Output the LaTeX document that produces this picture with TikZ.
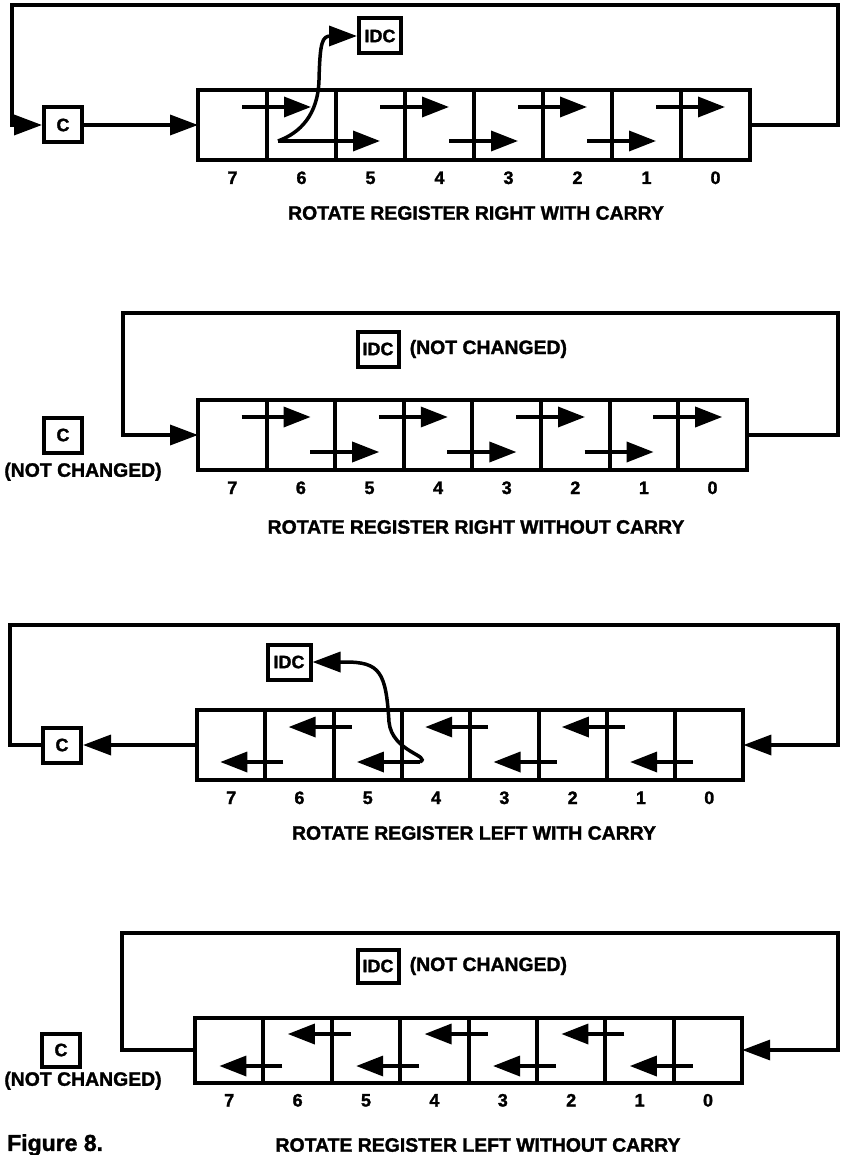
\documentclass[tikz,border=0pt]{standalone}
\usepackage{fontspec}
\setmainfont[BoldFeatures={FakeBold=1.5}]{Liberation Sans}
\usetikzlibrary{arrows.meta,positioning,calc}

\tikzset{
  regcell/.style={draw, line width=4pt, inner sep=0pt, outer sep=0pt},
  flagbox/.style={draw, line width=4pt, inner sep=0pt, minimum height=35pt, font=\fontsize{18}{18}\selectfont\bfseries},
  bitnum/.style={inner sep=0pt, anchor=base, font=\fontsize{18}{18}\selectfont\bfseries},
  caption/.style={inner sep=0pt, font=\fontsize{19.4}{22}\selectfont\bfseries},
  note/.style={inner sep=0pt, font=\fontsize{19.4}{22}\selectfont\bfseries},
  figlabel/.style={inner sep=0pt, font=\fontsize{23}{25}\selectfont\bfseries},
  conn/.style={line width=3.5pt, -{Triangle[length=28pt,width=20pt]}},
  shiftarr/.style={line width=3.5pt, -{Triangle[length=27pt,width=20pt]}}
}

\newcommand{\regrow}[5]{%
  \foreach \b [count=\i from 0] in {7,6,5,4,3,2,1,0}
    \node[regcell, minimum width=#4pt, minimum height=#5pt] (#1\b) at ({#2+#4*(\i+0.5)},#3) {};
  \foreach \b in {7,6,5,4,3,2,1,0}
    \node[bitnum] (#1n\b) at ($(#1\b.south)+(0,24)$) {\b};
}

\begin{document}
\begin{tikzpicture}[x=1pt, y=-1pt]
\useasboundingbox[fill=white] (0,0) rectangle (840,1155);

\regrow{a}{198}{125}{69}{70}
\node[flagbox, minimum width=38pt] (carry1) at (63,125) {C};
\node[flagbox, minimum width=42pt] (idc1) at (380,36) {IDC};
\foreach \b/\s in {7/-18,5/-18,4/16,3/-18,2/16,1/-18}
  \draw[shiftarr] ($(a\b.east)+(-25,\s)$) -- ++(69,0);
\coordinate (a6tail) at ($(a6.east)+(-58,16)$);
\draw[shiftarr] (a6tail) -- ++(102,0);
\draw[conn] (a6tail) .. controls (300,133) and (318,115) .. (319,80) .. controls (320,42) and (322,36) .. (331,36) -- (idc1.west);
\coordinate (r1ne) at (838,5);
\coordinate (r1nw) at (12,5);
\draw[conn] (a0.east) -| (r1ne) -- (r1nw) |- (carry1.west);
\draw[conn] (carry1.east) -- (a7.west);
\node[caption] (t1) at (476,213) {ROTATE REGISTER RIGHT WITH CARRY};

\regrow{b}{198}{435}{68.6}{70}
\node[flagbox, minimum width=38pt] (carry2) at (63,435) {C};
\node[note, below=8pt of carry2, xshift=20pt] (keep2c) {(NOT CHANGED)};
\node[flagbox, minimum width=41pt] (idc2) at (378,349) {IDC};
\node[note, right=9pt of idc2] (keep2i) {(NOT CHANGED)};
\foreach \b/\s in {7/-18,6/17,5/-18,4/17,3/-18,2/17,1/-18}
  \draw[shiftarr] ($(b\b.east)+(-25,\s)$) -- ++(69,0);
\coordinate (r2ne) at (838,313);
\coordinate (r2nw) at (123,313);
\draw[conn] (b0.east) -| (r2ne) -- (r2nw) |- (b7.west);
\node[caption] (t2) at (476,527) {ROTATE REGISTER RIGHT WITHOUT CARRY};

\regrow{c}{197}{745}{68.3}{70}
\node[flagbox, minimum width=38pt] (carry3) at (62,745) {C};
\node[flagbox, minimum width=43pt] (idc3) at (289,662) {IDC};
\foreach \b/\s in {6/17,5/-18,3/-18,2/17,1/-18,0/17}
  \draw[shiftarr] ($(c\b.west)+(18,\s)$) -- ++(-63,0);
\coordinate (c4tail) at ($(c4.west)+(18,17)$);
\draw[shiftarr] (c4tail) -- ++(-63,0);
\draw[conn] (c4tail) .. controls (432,756) and (392,752) .. (389,722) .. controls (386,672) and (380,662) .. (345,662) -- (idc3.east);
\coordinate (r3ne) at (838,625);
\coordinate (r3nw) at (10,625);
\draw[conn] (c7.west) -- (carry3.east);
\draw[conn] (carry3.west) -| (r3nw) -- (r3ne) |- (c0.east);
\node[caption] (t3) at (474,833) {ROTATE REGISTER LEFT WITH CARRY};

\regrow{d}{195}{1050}{68.4}{65}
\node[flagbox, minimum width=38pt, minimum height=33pt] (carry4) at (61,1050) {C};
\node[note, below=3pt of carry4, xshift=22pt] (keep4c) {(NOT CHANGED)};
\node[flagbox, minimum width=41pt, minimum height=33pt] (idc4) at (378,966) {IDC};
\node[note, right=9pt of idc4] (keep4i) {(NOT CHANGED)};
\foreach \b/\s in {6/16,5/-16,4/16,3/-16,2/16,1/-16,0/16}
  \draw[shiftarr] ($(d\b.west)+(19,\s)$) -- ++(-63,0);
\coordinate (r4ne) at (838,933);
\coordinate (r4nw) at (122,933);
\draw[conn] (d7.west) -| (r4nw) -- (r4ne) |- (d0.east);
\node[caption] (t4) at (478,1145) {ROTATE REGISTER LEFT WITHOUT CARRY};

\node[figlabel, anchor=west] (fig) at (7,1145) {Figure 8.};
\end{tikzpicture}
\end{document}
